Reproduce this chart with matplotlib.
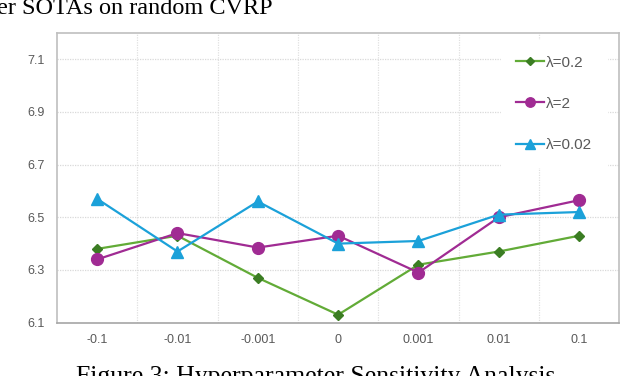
import matplotlib
matplotlib.use("Agg")
import matplotlib.pyplot as plt
from matplotlib.ticker import FixedLocator

categories = ["-0.1", "-0.01", "-0.001", "0", "0.001", "0.01", "0.1"]
lam_02 = [6.38, 6.43, 6.27, 6.13, 6.32, 6.37, 6.43]
lam_2 = [6.34, 6.44, 6.385, 6.43, 6.29, 6.50, 6.565]
lam_002 = [6.57, 6.37, 6.56, 6.40, 6.41, 6.51, 6.52]
labels = ["λ=0.2", "λ=2", "λ=0.02"]
yticks = [6.1, 6.3, 6.5, 6.7, 6.9, 7.1]

plt.rcParams['font.family'] = ['Liberation Sans', 'DejaVu Sans']

fig = plt.figure(figsize=(6.2, 3.76), dpi=100)
ax = fig.add_axes([57/620, (376-322.6)/376, (619.3-57)/620, (322.6-33)/376])

x = list(range(len(categories)))
ax.plot(x, lam_02, color="#62ab37", lw=1.6, marker="D", ms=5.5,
        mfc="#3b7d23", mec="#3b7d23", label=labels[0], zorder=3)
ax.plot(x, lam_2, color="#a02b93", lw=1.6, marker="o", ms=8.5,
        mfc="#a02b93", mec="#a02b93", label=labels[1], zorder=3)
ax.plot(x, lam_002, color="#1ba1d9", lw=1.6, marker="^", ms=8.5,
        mfc="#1ba1d9", mec="#1ba1d9", label=labels[2], zorder=3)

ax.set_xlim(-0.5, 6.5)
ax.set_ylim(6.1, 7.2)
ax.set_xticks(x)
ax.set_xticklabels(categories)
ax.set_yticks(yticks)
ax.set_yticklabels([f"{v:.1f}" for v in yticks])
ax.xaxis.set_minor_locator(FixedLocator([i + 0.5 for i in range(6)]))

ax.tick_params(axis="both", which="both", length=0, labelsize=9, labelcolor="#595959")
ax.tick_params(axis="x", pad=8)
ax.tick_params(axis="y", pad=9)

ax.grid(axis="y", which="major", color="#d9d9d9", lw=0.9, ls=(0, (1, 1)))
ax.grid(axis="x", which="minor", color="#e0e0e0", lw=0.9, ls=(0, (1, 1)))
ax.grid(axis="x", which="major", visible=False)

for s in ["left", "top", "right"]:
    ax.spines[s].set_color("#bfbfbf")
    ax.spines[s].set_linewidth(1.2)
ax.spines["bottom"].set_color("#a6a6a6")
ax.spines["bottom"].set_linewidth(1.2)

leg = ax.legend(loc="upper right", bbox_to_anchor=(0.978, 0.975), borderaxespad=0,
                frameon=True, facecolor="white", edgecolor="white", framealpha=1,
                fontsize=11, handlelength=1.8, handletextpad=0.1, markerscale=0.8,
                labelspacing=1.78, borderpad=1.0, fancybox=False)
for t in leg.get_texts():
    t.set_color("#595959")

fig.text(-0.005, 1 - 14/376, "er SOTAs on random CVRP", family="Liberation Serif",
         fontsize=17.5, va="baseline", ha="left", color="black")
fig.text(316/620, -6.5/376, "Figure 3: Hyperparameter Sensitivity Analysis",
         family="Liberation Serif", fontsize=18.5, va="baseline", ha="center", color="black")

fig.savefig("out.png", dpi=100)
